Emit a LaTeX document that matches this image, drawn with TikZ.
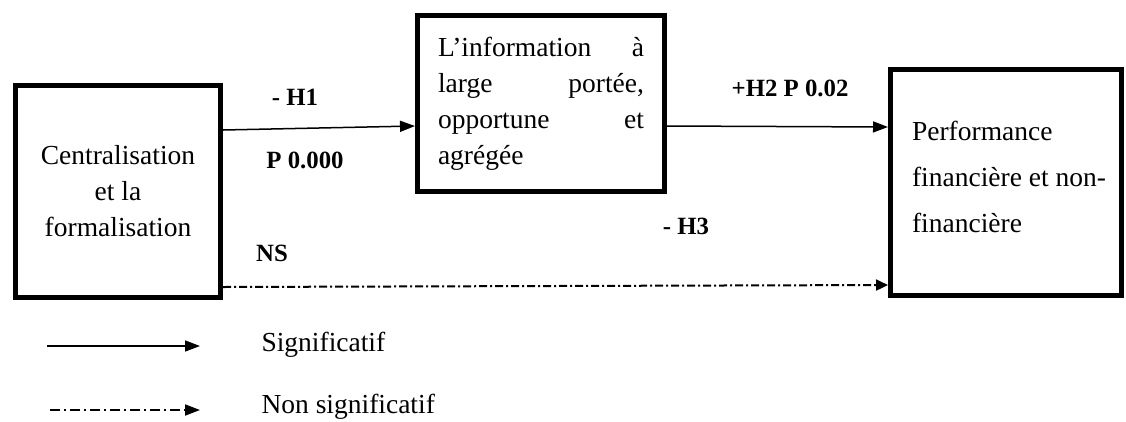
\documentclass[tikz,border=0pt]{standalone}
\usepackage{fontspec}
\setmainfont{Liberation Serif}
\usetikzlibrary{arrows.meta}
\begin{document}
\begin{tikzpicture}[x=1pt,y=-1pt,
  box/.style={draw,line width=5pt,inner sep=0pt,font={\fontsize{27.5}{36}\selectfont}},
  lbl/.style={anchor=base,font={\fontsize{24.8}{30}\selectfont\bfseries}},
  legtext/.style={anchor=base west,font={\fontsize{27.5}{36}\selectfont}},
  arr/.style={line width=1.5pt,-{Triangle[length=15pt,width=11pt]}},
  dasharr/.style={line width=2pt,dash pattern=on 8pt off 3pt on 2pt off 3pt,-{Triangle[length=12pt,width=11pt]}},
  legdash/.style={line width=1.8pt,dash pattern=on 10pt off 4pt on 2pt off 4pt,-{Triangle[length=15pt,width=11pt]}}]
\useasboundingbox (0,0) rectangle (1126,421);
\fill[white] (0,0) rectangle (1126,421);
\node[box,minimum width=205pt,minimum height=212pt,align=center] (A) at (118,191.5)
  {Centralisation\\et la\\formalisation};
\node[box,minimum width=247pt,minimum height=176pt,align=left] (B) at (541,103.5)
  {\makebox[206pt][s]{L'information à}\\\makebox[206pt][s]{large portée,}\\\makebox[206pt][s]{opportune et}\\agrégée};
\node[box,minimum width=231pt,minimum height=226pt] (C) at (1006,182.5) {};
\node[align=left,inner sep=0pt,font={\fontsize{27.5}{46}\selectfont}] (Ct) at (1009,177)
  {Performance\\financière et non-\\financière};
\draw[arr] ([yshift=61.5pt]A.east) -- ([yshift=-22.5pt]B.west);
\draw[arr] ([yshift=-22.5pt]B.east) -- ([yshift=55.5pt]C.west);
\draw[dasharr] ([yshift=-95.5pt]A.east) -- ([yshift=-102.5pt]C.west);
\node[lbl] (h1) at (295,105) {- H1};
\node[lbl] (p1) at (305,168) {P 0.000};
\node[lbl] (h2) at (790,96) {+H2 P 0.02};
\node[lbl] (h3) at (686,234) {- H3};
\node[lbl] (ns) at (272,261) {NS};
\coordinate (s1) at (47,346);
\coordinate (s2) at (200,346);
\coordinate (n1) at (50,410);
\coordinate (n2) at (200,410);
\draw[arr] (s1) -- (s2);
\draw[legdash] (n1) -- (n2);
\node[legtext] (ls) at (258,351) {Significatif};
\node[legtext] (ln) at (258,413) {Non significatif};
\end{tikzpicture}
\end{document}
